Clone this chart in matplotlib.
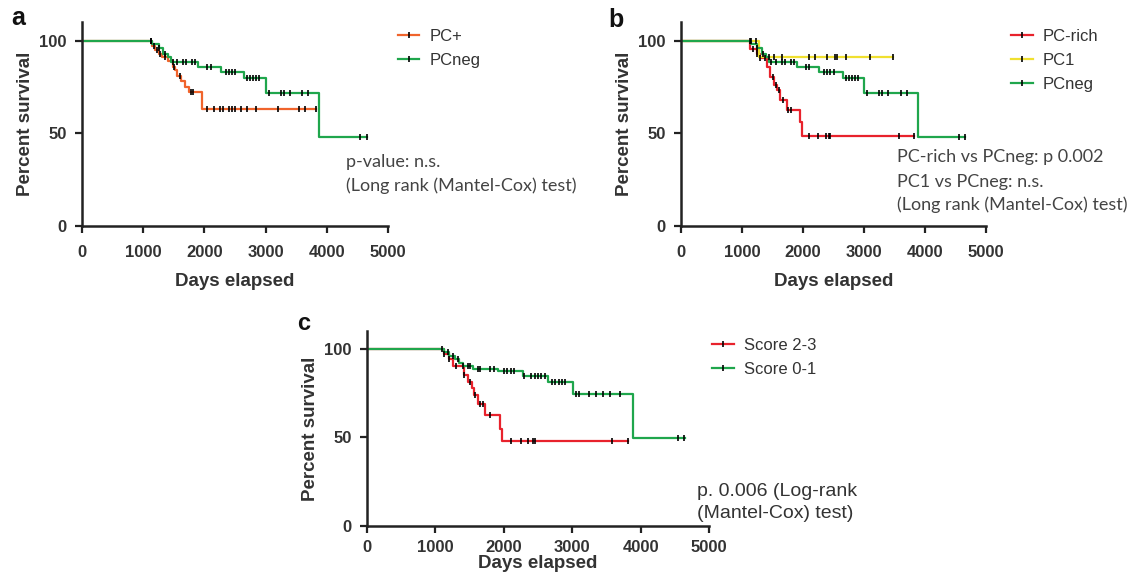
import numpy as np
import matplotlib
matplotlib.use("Agg")
import matplotlib.pyplot as plt
from matplotlib.lines import Line2D
from matplotlib.legend_handler import HandlerTuple

# ---- data ----
# panel a
a_pcpos_t = [1150, 1200, 1250, 1300, 1400, 1480, 1520, 1560, 1620, 1680, 1750, 1960]
a_pcpos_s = [97, 95, 93, 91, 89, 86, 84, 81, 78, 75, 72, 63]
a_pcpos_end = 3830
a_pcpos_cens = [1130, 1180, 1230, 1280, 1350, 1500, 1600, 1780, 1820, 2050, 2150, 2250,
                2300, 2400, 2450, 2500, 2600, 2700, 2850, 3200, 3550, 3650, 3830]

pcneg_t = [1150, 1250, 1320, 1400, 1450, 1900, 2270, 2650, 3000, 3880]
pcneg_s = [98, 96, 93, 91, 88.5, 86, 83, 79.8, 71.6, 48]
pcneg_end = 4650
pcneg_cens = [1130, 1250, 1350, 1480, 1550, 1650, 1700, 1800, 1850, 2050, 2100, 2350,
              2400, 2450, 2500, 2700, 2750, 2800, 2850, 2900, 3050, 3250, 3300, 3400,
              3600, 3700, 4550, 4650]

# panel b
b_rich_t = [1130, 1250, 1300, 1410, 1460, 1520, 1570, 1630, 1740, 1945, 1980]
b_rich_s = [95.5, 93, 90.5, 86, 80.5, 76, 73.3, 68, 62.5, 56, 48.5]
b_rich_end = 3820
b_rich_cens = [1180, 1250, 1300, 1380, 1500, 1550, 1600, 1680, 1750, 1800, 2100, 2250,
               2380, 2430, 2450, 3580, 3820]

b_pc1_t = [1280]
b_pc1_s = [91]
b_pc1_end = 3480
b_pc1_cens = [1150, 1230, 1450, 1520, 1650, 2100, 2200, 2400, 2520, 2560, 2700, 3100, 3480]

# panel c
c_hi_t = [1130, 1200, 1260, 1420, 1480, 1530, 1560, 1620, 1720, 1950, 1975]
c_hi_s = [97, 94, 90, 85, 81, 78, 74, 69, 62.6, 55, 48]
c_hi_end = 3815
c_hi_cens = [1130, 1200, 1300, 1420, 1500, 1580, 1650, 1700, 1800, 2100, 2250, 2350,
             2430, 2450, 3580, 3815]

c_lo_t = [1120, 1200, 1280, 1350, 1400, 1550, 1915, 2280, 2646, 3012, 3889]
c_lo_s = [98, 96, 94, 92, 90, 88.7, 87.2, 84.7, 81.5, 74.5, 49.8]
c_lo_end = 4644
c_lo_cens = [1100, 1180, 1250, 1330, 1400, 1470, 1500, 1620, 1650, 1800, 1850, 2000,
             2050, 2100, 2150, 2300, 2400, 2450, 2500, 2550, 2600, 2700, 2750, 2800,
             2850, 2900, 3050, 3100, 3250, 3350, 3450, 3550, 3700, 4550, 4630]

ORANGE = "#f0642c"
RED = "#e8222c"
YELLOW = "#f0e030"
GREEN = "#1fa64c"

BOLD = dict(family="Liberation Sans", weight="bold")


def km(ax, t, s, end, cens, color):
    tt = np.array([0] + list(t) + [end])
    ss = np.array([100] + list(s) + [s[-1]])
    ax.step(tt, ss, where="post", color=color, lw=1.6, zorder=2)
    c = np.array(cens)
    idx = np.searchsorted(tt, c, side="right") - 1
    ax.plot(c, ss[idx], "|", color="black", ms=4, mew=1.2, zorder=3)


def style(ax, pad=9, labelpad=9):
    ax.set_xlim(0, 5000)
    ax.set_ylim(0, 110)
    ax.set_xticks([0, 1000, 2000, 3000, 4000, 5000])
    ax.set_yticks([0, 50, 100])
    for sp in ["top", "right"]:
        ax.spines[sp].set_visible(False)
    for sp in ["left", "bottom"]:
        ax.spines[sp].set_linewidth(1.8)
        ax.spines[sp].set_color("#222222")
    ax.tick_params(direction="out", length=5, width=1.6, color="#222222")
    ax.tick_params(axis="x", pad=pad)
    ax.tick_params(axis="y", pad=6)
    for lab in ax.get_xticklabels() + ax.get_yticklabels():
        lab.set_fontfamily("Liberation Sans")
        lab.set_fontweight("bold")
        lab.set_fontsize(12)
        lab.set_color("#333333")
    ax.set_xlabel("Days elapsed", fontsize=13.5, color="#333333", labelpad=labelpad, **BOLD)
    ax.set_ylabel("Percent survival", fontsize=13.5, color="#333333", labelpad=4, **BOLD)


def legend(ax, colors, labels, x, y):
    handles = [(Line2D([], [], color=c, lw=1.6),
                Line2D([], [], ls="none", marker="|", color="black", ms=4, mew=1.2))
               for c in colors]
    leg = ax.legend(handles, labels, loc="upper left", bbox_to_anchor=(x, y),
                    frameon=False, prop=dict(family="Liberation Sans", size=12),
                    handlelength=1.3, handletextpad=0.6, labelspacing=0.55,
                    borderaxespad=0, handler_map={tuple: HandlerTuple(ndivide=1)})
    for txt in leg.get_texts():
        txt.set_color("#333333")


fig = plt.figure(figsize=(11.33, 5.75), dpi=100)
W, H = 1133, 575
NOTE = dict(family="Lato", fontsize=13, color="#444444", va="center")

# panel a
axa = fig.add_axes([82 / W, 1 - 226 / H, 306 / W, 204 / H])
km(axa, a_pcpos_t, a_pcpos_s, a_pcpos_end, a_pcpos_cens, ORANGE)
km(axa, pcneg_t, pcneg_s, pcneg_end, pcneg_cens, GREEN)
style(axa)
legend(axa, [ORANGE, GREEN], ["PC+", "PCneg"], 1.01, 1.0)
fig.text(346 / W, 1 - 162 / H, "p-value: n.s.", **NOTE)
fig.text(346 / W, 1 - 186 / H, "(Long rank (Mantel-Cox) test)", **NOTE)
fig.text(11 / W, 1 - 18 / H, "a", fontsize=18, color="#111111", va="center", **BOLD)

# panel b
axb = fig.add_axes([681 / W, 1 - 226 / H, 305 / W, 204 / H])
km(axb, b_rich_t, b_rich_s, b_rich_end, b_rich_cens, RED)
km(axb, b_pc1_t, b_pc1_s, b_pc1_end, b_pc1_cens, YELLOW)
km(axb, pcneg_t, pcneg_s, pcneg_end, pcneg_cens, GREEN)
style(axb)
legend(axb, [RED, YELLOW, GREEN], ["PC-rich", "PC1", "PCneg"], 1.06, 1.0)
fig.text(897 / W, 1 - 157 / H, "PC-rich vs PCneg: p 0.002", **NOTE)
fig.text(897 / W, 1 - 182 / H, "PC1 vs PCneg: n.s.", **NOTE)
fig.text(897 / W, 1 - 205 / H, "(Long rank (Mantel-Cox) test)", **NOTE)
fig.text(608 / W, 1 - 20 / H, "b", fontsize=18, color="#111111", va="center", **BOLD)

# panel c
axc = fig.add_axes([367 / W, 1 - 526 / H, 342 / W, 195 / H])
km(axc, c_hi_t, c_hi_s, c_hi_end, c_hi_cens, RED)
km(axc, c_lo_t, c_lo_s, c_lo_end, c_lo_cens, GREEN)
style(axc, pad=5, labelpad=0)
legend(axc, [RED, GREEN], ["Score 2-3", "Score 0-1"], 0.99, 1.0)
fig.text(697 / W, 1 - 491 / H, "p. 0.006 (Log-rank", family="Liberation Sans",
         fontsize=14, color="#333333", va="center")
fig.text(697 / W, 1 - 513 / H, "(Mantel-Cox) test)", family="Liberation Sans",
         fontsize=14, color="#333333", va="center")
fig.text(297 / W, 1 - 323 / H, "c", fontsize=17, color="#111111", va="center", **BOLD)

fig.savefig("out.png", dpi=100)
